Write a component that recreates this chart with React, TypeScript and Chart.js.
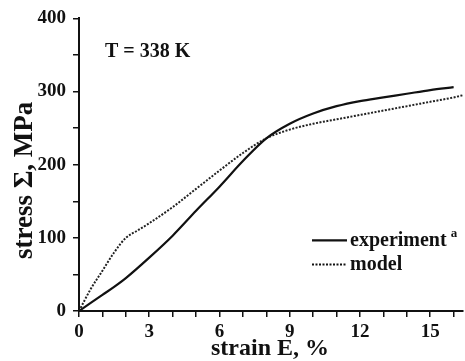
import React, { useEffect, useRef } from "react";
import { Chart, registerables } from "chart.js";

Chart.register(...registerables);

const expStrain = [0, 0.5, 1, 1.5, 2, 3, 4, 5, 6, 7, 8, 9, 10, 11, 12, 13, 14, 15, 16];
const expStress = [0, 11, 22, 33, 45, 73, 103, 137, 170, 205, 236, 256, 270, 280, 287, 292, 297, 302, 306];

const modelStrain = [0, 0.5, 1, 1.5, 2, 2.5, 3, 4, 5, 6, 7, 8, 9, 10, 11, 12, 13, 14, 15, 16, 16.4];
const modelStress = [0, 30, 55, 80, 100, 110, 120, 142, 167, 192, 216, 236, 248, 256, 262, 268, 274, 280, 286, 292, 295];

const xTickLabels = [0, 3, 6, 9, 12, 15];
const yTickLabels = [0, 100, 200, 300, 400];

const seriesNames = ["experiment", "model"];
const annotationText = "T = 338 K";
const yTitle = "stress Σ, MPa";
const xTitle = "strain E, %";

const FONT = "'Liberation Serif', 'Times New Roman', serif";

const overlayPlugin = {
  id: "overlay",
  afterDraw(chart: any) {
    const { ctx, chartArea } = chart;
    ctx.save();
    ctx.fillStyle = "#111";
    ctx.textBaseline = "middle";
    ctx.textAlign = "left";
    ctx.font = `bold 20px ${FONT}`;
    ctx.fillText(annotationText, chartArea.left + 26, chartArea.top + 33);

    // axis titles
    ctx.save();
    ctx.font = `bold 27px ${FONT}`;
    ctx.textAlign = "center";
    ctx.translate(25, chartArea.top + 162);
    ctx.rotate(-Math.PI / 2);
    ctx.fillText(yTitle, 0, 0);
    ctx.restore();
    ctx.font = `bold 24px ${FONT}`;
    ctx.textAlign = "center";
    ctx.fillText(xTitle, chartArea.left + 191, chartArea.bottom + 38);

    // legend
    const lx0 = chartArea.left + 233;
    const lx1 = chartArea.left + 268;
    const tx = chartArea.left + 271;
    const y1 = chartArea.top + 222;
    const y2 = chartArea.top + 246;
    ctx.textAlign = "left";
    ctx.strokeStyle = "#111";
    ctx.lineWidth = 2.2;
    ctx.setLineDash([]);
    ctx.beginPath();
    ctx.moveTo(lx0, y1);
    ctx.lineTo(lx1, y1);
    ctx.stroke();
    ctx.lineWidth = 2;
    ctx.setLineDash([2, 1.5]);
    ctx.beginPath();
    ctx.moveTo(lx0, y2);
    ctx.lineTo(lx1, y2);
    ctx.stroke();
    ctx.setLineDash([]);
    ctx.font = `bold 20px ${FONT}`;
    ctx.fillText(seriesNames[0], tx, y1);
    const w = ctx.measureText(seriesNames[0]).width;
    ctx.font = `bold 13px ${FONT}`;
    ctx.fillText("a", tx + w + 4, y1 - 7);
    ctx.font = `bold 20px ${FONT}`;
    ctx.fillText(seriesNames[1], tx, y2);
    ctx.restore();
  },
};

export default function App() {
  const ref = useRef<HTMLCanvasElement | null>(null);
  useEffect(() => {
    if (!ref.current) return;
    const chart = new Chart(ref.current, {
      type: "line",
      data: {
        datasets: [
          {
            label: seriesNames[0],
            data: expStrain.map((x, i) => ({ x, y: expStress[i] })),
            borderColor: "#111",
            borderWidth: 2.2,
            pointRadius: 0,
            cubicInterpolationMode: "monotone",
            fill: false,
          },
          {
            label: seriesNames[1],
            data: modelStrain.map((x, i) => ({ x, y: modelStress[i] })),
            borderColor: "#222",
            borderWidth: 2,
            borderDash: [2, 1.5],
            pointRadius: 0,
            cubicInterpolationMode: "monotone",
            fill: false,
          },
        ],
      },
      options: {
        animation: false,
        responsive: false,
        layout: { padding: { top: 18, right: 2, left: 0, bottom: 0 } },
        plugins: { legend: { display: false }, tooltip: { enabled: false } },
        scales: {
          x: {
            type: "linear",
            min: 0,
            max: 16.4,
            border: { display: true, color: "#111", width: 2 },
            grid: { drawOnChartArea: false, drawTicks: true, tickLength: 6, color: "#111", lineWidth: 1.5 },
            ticks: {
              stepSize: 1,
              includeBounds: false,
              autoSkip: false,
              maxRotation: 0,
              padding: 4,
              color: "#111",
              font: { family: FONT, size: 19, weight: "bold" },
              callback: (v: any) => (xTickLabels.includes(Number(v)) ? String(v) : ""),
            },
            title: { display: false },
            afterFit: (s: any) => {
              s.height = 50;
            },
          },
          y: {
            type: "linear",
            min: 0,
            max: 400,
            border: { display: true, color: "#111", width: 2 },
            grid: { drawOnChartArea: false, drawTicks: true, tickLength: 6, color: "#111", lineWidth: 1.5 },
            ticks: {
              stepSize: 50,
              autoSkip: false,
              padding: 7,
              color: "#111",
              font: { family: FONT, size: 19, weight: "bold" },
              callback: (v: any) => (yTickLabels.includes(Number(v)) ? String(v) : ""),
            },
            title: { display: false },
            afterFit: (s: any) => {
              s.width = 79;
            },
          },
        },
      },
      plugins: [overlayPlugin],
    });
    return () => chart.destroy();
  }, []);
  return (
    <div style={{ position: "fixed", left: 0, top: 0, width: 465, height: 361, background: "#fff" }}>
      <canvas ref={ref} width={465} height={361} style={{ width: 465, height: 361, display: "block" }} />
    </div>
  );
}
